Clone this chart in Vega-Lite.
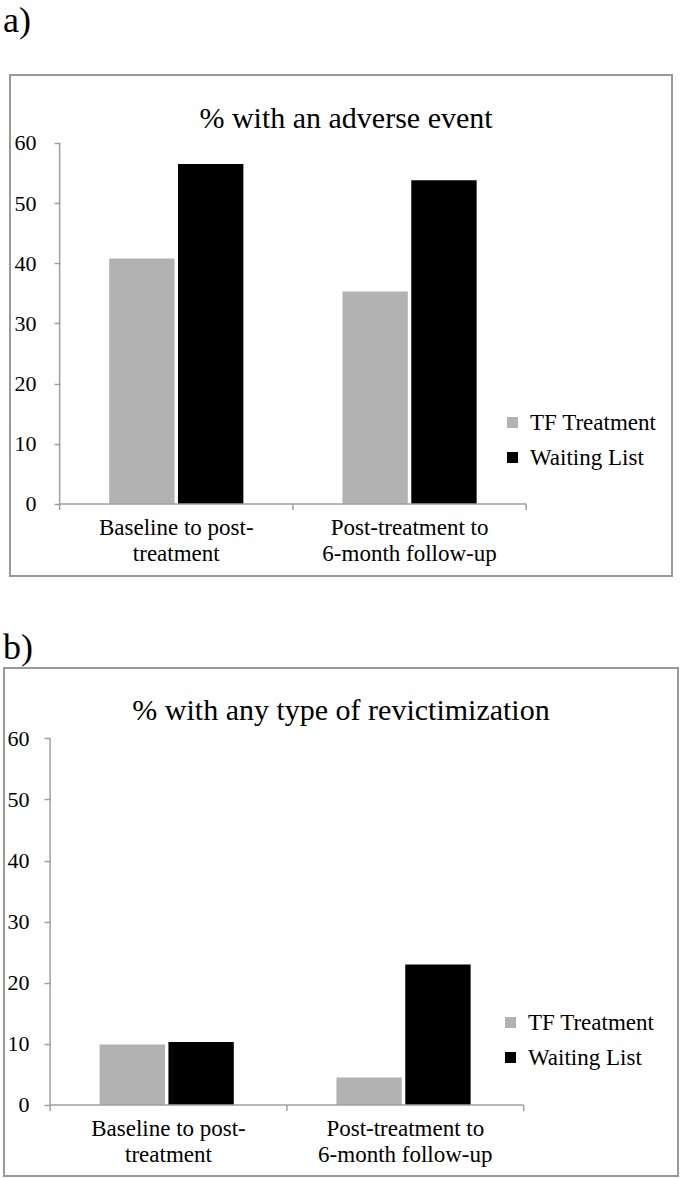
{
  "$schema": "https://vega.github.io/schema/vega-lite/v6.json",
  "padding": {"left": 3, "top": 3, "right": 0, "bottom": 0},
  "title": {"text": "a)", "anchor": "start", "font": "Liberation Serif", "fontSize": 36, "fontWeight": "normal", "offset": 34},
  "datasets": {
    "a": [
      {"period": "Baseline to post-treatment", "group": "TF Treatment", "pct": 40.8},
      {"period": "Baseline to post-treatment", "group": "Waiting List", "pct": 56.5},
      {"period": "Post-treatment to 6-month follow-up", "group": "TF Treatment", "pct": 35.3},
      {"period": "Post-treatment to 6-month follow-up", "group": "Waiting List", "pct": 53.8}
    ],
    "b": [
      {"period": "Baseline to post-treatment", "group": "TF Treatment", "pct": 9.9},
      {"period": "Baseline to post-treatment", "group": "Waiting List", "pct": 10.3},
      {"period": "Post-treatment to 6-month follow-up", "group": "TF Treatment", "pct": 4.5},
      {"period": "Post-treatment to 6-month follow-up", "group": "Waiting List", "pct": 23.0}
    ]
  },
  "center": true,
  "spacing": 53,
  "resolve": {"scale": {"color": "independent"}, "legend": {"color": "independent"}},
  "vconcat": [
    {
      "width": 662,
      "height": 501,
      "data": {"name": "a"},
      "title": {"text": "% with an adverse event", "font": "Liberation Serif", "fontSize": 30, "fontWeight": "normal", "anchor": "middle", "offset": -59, "dx": 5},
      "layer": [
        {
          "mark": {"type": "bar"},
          "encoding": {
            "x": {"field": "period", "type": "nominal", "sort": null,
              "scale": {"paddingInner": 0, "paddingOuter": 0.419, "align": 0.254},
              "axis": {"title": null, "orient": "bottom", "offset": -72, "domain": false, "ticks": false, "labelPadding": 12, "labelAngle": 0,
                "labelExpr": "datum.value == 'Baseline to post-treatment' ? ['Baseline to post-', 'treatment'] : ['Post-treatment to', '6-month follow-up']"}},
            "xOffset": {"field": "group", "type": "nominal", "sort": null, "scale": {"paddingInner": 0.05, "paddingOuter": 0.72}},
            "y": {"field": "pct", "type": "quantitative",
              "scale": {"domain": [-11.97, 71.3], "nice": false, "zero": false},
              "axis": {"title": null, "offset": -50, "values": [0, 10, 20, 30, 40, 50, 60], "domain": false, "grid": false, "labelPadding": 18}},
            "y2": {"datum": 0},
            "color": {"field": "group", "type": "nominal",
              "scale": {"domain": ["TF Treatment", "Waiting List"], "range": ["#b2b2b2", "#000000"]},
              "legend": {"title": null, "orient": "none", "legendX": 491, "legendY": 336}}
          }
        },
        {
          "mark": {"type": "bar", "fill": null, "stroke": "#a0a0a0", "strokeWidth": 1.5},
          "transform": [{"filter": "datum.group == 'TF Treatment'"}],
          "encoding": {
            "x": {"field": "period", "type": "nominal", "sort": null},
            "y": {"datum": 0},
            "y2": {"datum": 0}
          }
        },
        {
          "mark": {"type": "rule", "stroke": "#a0a0a0", "strokeWidth": 1.5},
          "transform": [{"filter": "datum.group == 'TF Treatment'"}],
          "encoding": {
            "x": {"field": "period", "type": "nominal", "sort": null, "bandPosition": 0},
            "y": {"datum": 0},
            "y2": {"datum": -1}
          }
        },
        {
          "mark": {"type": "rule", "stroke": "#a0a0a0", "strokeWidth": 1.5},
          "transform": [{"filter": "datum.group == 'TF Treatment' && datum.period == 'Post-treatment to 6-month follow-up'"}],
          "encoding": {
            "x": {"field": "period", "type": "nominal", "sort": null, "bandPosition": 1},
            "y": {"datum": 0},
            "y2": {"datum": -1}
          }
        },
        {
          "mark": {"type": "rule", "stroke": "#a0a0a0", "strokeWidth": 1.5},
          "transform": [{"filter": "datum.group == 'TF Treatment' && datum.period == 'Baseline to post-treatment'"}],
          "encoding": {
            "x": {"field": "period", "type": "nominal", "sort": null, "bandPosition": 0},
            "y": {"datum": 0},
            "y2": {"datum": 60}
          }
        }
      ]
    },
    {
      "title": {"text": "b)", "anchor": "start", "font": "Liberation Serif", "fontSize": 36, "fontWeight": "normal", "offset": 0, "dx": 0},
      "resolve": {"scale": {"color": "independent"}, "legend": {"color": "independent"}},
      "vconcat": [
        {
          "width": 674,
          "height": 508,
          "data": {"name": "b"},
          "title": {"text": "% with any type of revictimization", "font": "Liberation Serif", "fontSize": 30, "fontWeight": "normal", "anchor": "middle", "offset": -58},
          "layer": [
            {
              "mark": {"type": "bar"},
              "encoding": {
                "x": {"field": "period", "type": "nominal", "sort": null,
                  "scale": {"paddingInner": 0, "paddingOuter": 0.423, "align": 0.23},
                  "axis": {"title": null, "orient": "bottom", "offset": -71, "domain": false, "ticks": false, "labelPadding": 12, "labelAngle": 0,
                    "labelExpr": "datum.value == 'Baseline to post-treatment' ? ['Baseline to post-', 'treatment'] : ['Post-treatment to', '6-month follow-up']"}},
                "xOffset": {"field": "group", "type": "nominal", "sort": null, "scale": {"paddingInner": 0.05, "paddingOuter": 0.72}},
                "y": {"field": "pct", "type": "quantitative",
                  "scale": {"domain": [-11.62, 71.52], "nice": false, "zero": false},
                  "axis": {"title": null, "offset": -46, "values": [0, 10, 20, 30, 40, 50, 60], "domain": false, "grid": false, "labelPadding": 15}},
                "y2": {"datum": 0},
                "color": {"field": "group", "type": "nominal",
                  "scale": {"domain": ["TF Treatment", "Waiting List"], "range": ["#b2b2b2", "#000000"]},
                  "legend": {"title": null, "orient": "none", "legendX": 495, "legendY": 343}}
              }
            },
            {
              "mark": {"type": "bar", "fill": null, "stroke": "#a0a0a0", "strokeWidth": 1.5},
              "transform": [{"filter": "datum.group == 'TF Treatment'"}],
              "encoding": {
                "x": {"field": "period", "type": "nominal", "sort": null},
                "y": {"datum": 0},
                "y2": {"datum": 0}
              }
            },
            {
              "mark": {"type": "rule", "stroke": "#a0a0a0", "strokeWidth": 1.5},
              "transform": [{"filter": "datum.group == 'TF Treatment'"}],
              "encoding": {
                "x": {"field": "period", "type": "nominal", "sort": null, "bandPosition": 0},
                "y": {"datum": 0},
                "y2": {"datum": -1}
              }
            },
            {
              "mark": {"type": "rule", "stroke": "#a0a0a0", "strokeWidth": 1.5},
              "transform": [{"filter": "datum.group == 'TF Treatment' && datum.period == 'Post-treatment to 6-month follow-up'"}],
              "encoding": {
                "x": {"field": "period", "type": "nominal", "sort": null, "bandPosition": 1},
                "y": {"datum": 0},
                "y2": {"datum": -1}
              }
            },
            {
              "mark": {"type": "rule", "stroke": "#a0a0a0", "strokeWidth": 1.5},
              "transform": [{"filter": "datum.group == 'TF Treatment' && datum.period == 'Baseline to post-treatment'"}],
              "encoding": {
                "x": {"field": "period", "type": "nominal", "sort": null, "bandPosition": 0},
                "y": {"datum": 0},
                "y2": {"datum": 60}
              }
            }
          ]
        }
      ]
    }
  ],
  "config": {
    "font": "Liberation Serif",
    "view": {"stroke": "#999999", "strokeWidth": 2},
    "title": {"color": "#000000", "font": "Liberation Serif"},
    "axis": {
      "labelFont": "Liberation Serif",
      "labelFontSize": 22,
      "labelColor": "#000000",
      "labelLineHeight": 26,
      "tickColor": "#a0a0a0",
      "tickWidth": 1.5,
      "tickSize": 6
    },
    "axisX": {"labelFontSize": 23},
    "legend": {
      "labelFont": "Liberation Serif",
      "labelFontSize": 23,
      "labelColor": "#000000",
      "symbolType": "square",
      "symbolSize": 121,
      "symbolStrokeWidth": 0,
      "rowPadding": 11,
      "labelOffset": 6,
      "padding": 0
    }
  }
}
